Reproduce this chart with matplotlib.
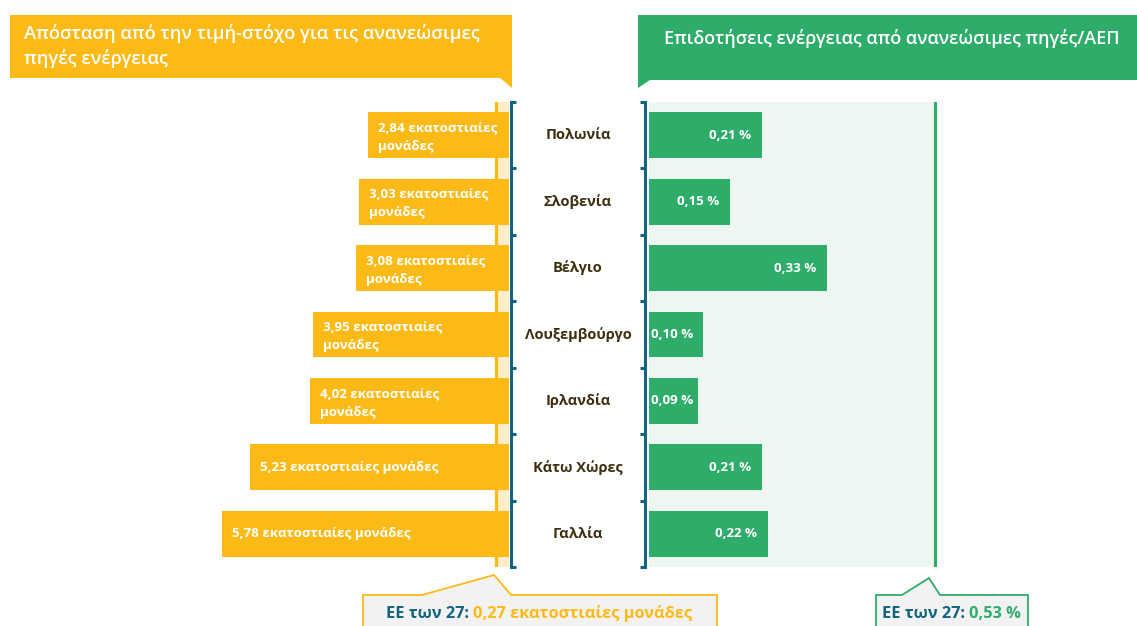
import matplotlib
matplotlib.use("Agg")
import matplotlib.pyplot as plt
from matplotlib.patches import Polygon

plt.rcParams['font.family'] = ['Open Sans', 'DejaVu Sans']

# data
countries = ["Πολωνία", "Σλοβενία", "Βέλγιο", "Λουξεμβούργο", "Ιρλανδία", "Κάτω Χώρες", "Γαλλία"]
gap_pp = [2.84, 3.03, 3.08, 3.95, 4.02, 5.23, 5.78]
subsidy_gdp = [0.21, 0.15, 0.33, 0.10, 0.09, 0.21, 0.22]
eu_gap = 0.27
eu_subsidy = 0.53
title_left = "Απόσταση από την τιμή-στόχο για τις ανανεώσιμες\nπηγές ενέργειας"
title_right = "Επιδοτήσεις ενέργειας από ανανεώσιμες πηγές/ΑΕΠ"

ORANGE = "#FBBA16"
ORANGE_LIGHT = "#FDEDC8"
GREEN = "#2EAC6A"
GREEN_LIGHT = "#EDF6F1"
TEAL = "#12637F"
BROWN = "#3D2E0F"
GREY = "#F2F2F2"

W, H = 1137, 626
fig = plt.figure(figsize=(W / 100, H / 100), dpi=100)


def fx(x):
    return x / W


def fy(y):
    return 1 - y / H


def px(x, y):
    return (x / W, 1 - y / H)


def comma(v):
    return f"{v:.2f}".replace(".", ",")


top, bottom = 102, 567
n = len(countries)

# left axes: orange bars grow leftwards
axl = fig.add_axes([fx(200), fy(bottom), fx(509 - 200), fy(top) - fy(bottom)])
axl.set_xlim((509 - 200) / 49.6, 0)
axl.set_ylim(n - 0.5, -0.5)
axl.axvspan(0, eu_gap, color=ORANGE_LIGHT, lw=0, zorder=0)
axl.axvline(eu_gap, color=ORANGE, lw=2.3, zorder=1)
axl.barh(range(n), gap_pp, height=0.69, color=ORANGE, zorder=2)
for i, v in enumerate(gap_pp):
    if v < 5:
        lab = comma(v) + " εκατοστιαίες\nμονάδες"
        yy = i + 0.03
    else:
        lab = comma(v) + " εκατοστιαίες μονάδες"
        yy = i
    axl.text(v - 0.2, yy, lab, ha="left", va="center", color="white",
             fontsize=9.6, fontweight="bold", linespacing=1.55, zorder=3)
axl.axis("off")

# right axes: green bars
axr = fig.add_axes([fx(649), fy(bottom), fx(1000 - 649), fy(top) - fy(bottom)])
axr.set_xlim(0, (1000 - 649) / 540)
axr.set_ylim(n - 0.5, -0.5)
axr.axvspan(0, eu_subsidy, color=GREEN_LIGHT, lw=0, zorder=0)
axr.axvline(eu_subsidy, color=GREEN, lw=2.2, zorder=1)
axr.barh(range(n), subsidy_gdp, height=0.69, color=GREEN, zorder=2)
for i, v in enumerate(subsidy_gdp):
    s = comma(v) + " %"
    if v <= 0.10:
        axr.text(0.003, i, s, ha="left", va="center", color="white",
                 fontsize=9.6, fontweight="bold", zorder=3)
    else:
        axr.text(v - 0.02, i, s, ha="right", va="center", color="white",
                 fontsize=9.6, fontweight="bold", zorder=3)
axr.axis("off")

# middle axes: brace lines and country names
axm = fig.add_axes([fx(511), fy(bottom), fx(645 - 511), fy(top) - fy(bottom)])
axm.set_xlim(0, 1)
axm.set_ylim(n - 0.5, -0.5)
axm.axvline(0, color=TEAL, lw=2.2, clip_on=False)
axm.axvline(1, color=TEAL, lw=2.2, clip_on=False)
for b in range(n + 1):
    axm.plot([0, 0.035], [b - 0.5, b - 0.5], color=TEAL, lw=2.2, clip_on=False,
             solid_capstyle="butt")
    axm.plot([0.965, 1], [b - 0.5, b - 0.5], color=TEAL, lw=2.2, clip_on=False,
             solid_capstyle="butt")
for i, c in enumerate(countries):
    axm.text(0.5, i, c, ha="center", va="center", color=BROWN,
             fontsize=10.5, fontweight="bold")
axm.axis("off")

# headers
hl = Polygon([px(10, 15), px(512, 15), px(512, 88), px(500, 78), px(10, 78)],
             closed=True, transform=fig.transFigure, color=ORANGE, lw=0)
fig.patches.append(hl)
fig.text(fx(24), fy(46), title_left, ha="left", va="center", color="white",
         fontsize=13.2, fontweight="semibold", linespacing=1.4)

hr = Polygon([px(638, 15), px(1137, 15), px(1137, 80), px(650, 80), px(638, 88)],
             closed=True, transform=fig.transFigure, color=GREEN, lw=0)
fig.patches.append(hr)
fig.text(fx(664), fy(38), title_right, ha="left", va="center", color="white",
         fontsize=12.95, fontweight="semibold")

# EU callouts
cl = Polygon([px(363, 640), px(363, 595), px(422, 595), px(494, 575), px(511, 595),
              px(717, 595), px(717, 640)],
             closed=False, transform=fig.transFigure, facecolor=GREY,
             edgecolor=ORANGE, lw=1.3)
fig.patches.append(cl)
cr = Polygon([px(876, 640), px(876, 595), px(902, 595), px(929, 578), px(940, 595),
              px(1028, 595), px(1028, 640)],
             closed=False, transform=fig.transFigure, facecolor=GREY,
             edgecolor=GREEN, lw=1.3)
fig.patches.append(cr)

renderer = fig.canvas.get_renderer()
for x0, val, col in [(386, comma(eu_gap) + " εκατοστιαίες μονάδες", ORANGE),
                     (882, comma(eu_subsidy) + " %", GREEN)]:
    t = fig.text(fx(x0), fy(614), "ΕΕ των 27: ", ha="left", va="center", color=TEAL,
                 fontsize=11.8, fontweight="bold")
    bb = t.get_window_extent(renderer)
    fig.text(bb.x1 / W, fy(614), val, ha="left", va="center", color=col,
             fontsize=11.8, fontweight="bold")

fig.savefig("out.png", dpi=100)
